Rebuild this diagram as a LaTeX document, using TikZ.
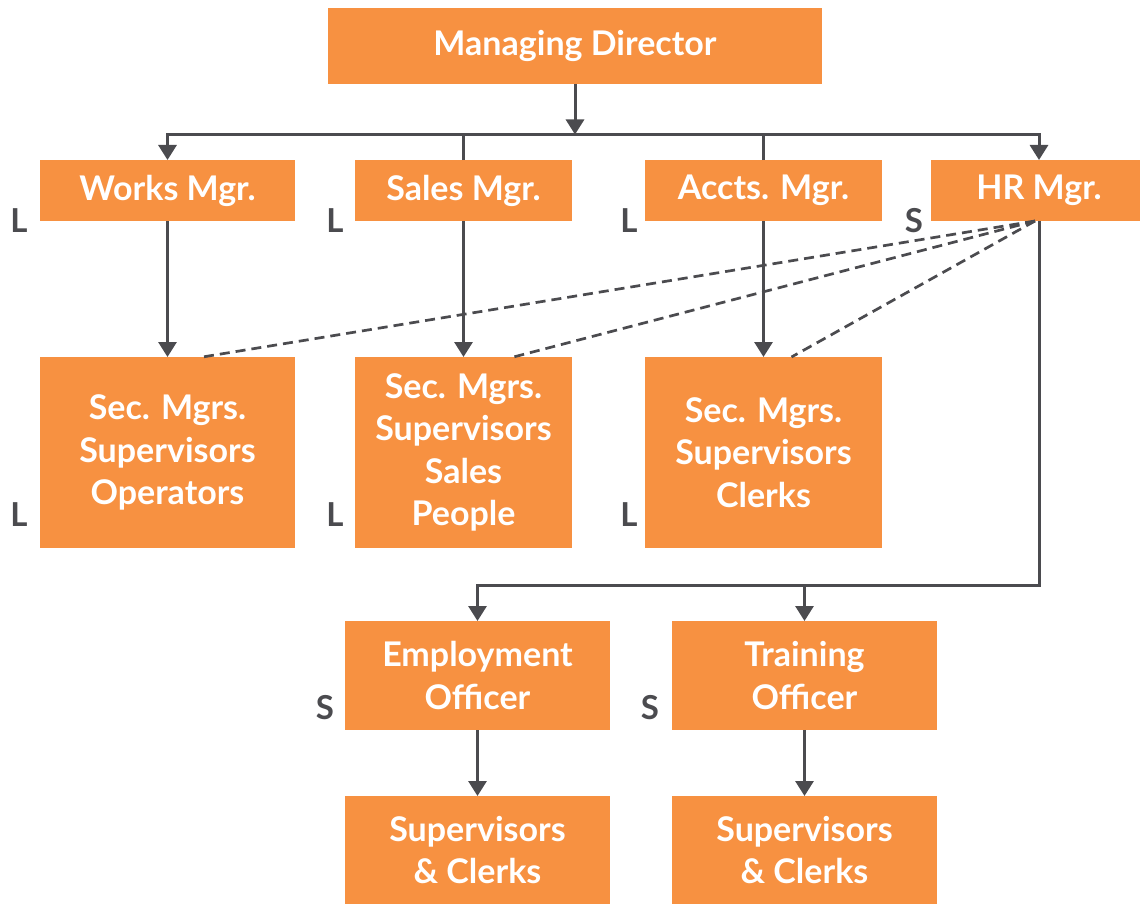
\documentclass[tikz,border=0pt]{standalone}
\usepackage{fontspec}
\setmainfont{Lato}
\usetikzlibrary{arrows.meta}
\definecolor{boxorange}{HTML}{F79141}
\definecolor{linegray}{HTML}{4B4B4F}
\begin{document}
\begin{tikzpicture}[x=0.5pt,y=-0.5pt,inner sep=0pt,outer sep=0pt,line width=1.5pt,draw=linegray,
>={Triangle[width=9pt,length=7.5pt]},
orgbox/.style={fill=boxorange,rectangle,align=center,text=white,font=\fontsize{17}{21.3}\selectfont\bfseries},
rank/.style={text=linegray,font=\fontsize{16.5}{20}\selectfont\bfseries},
hrlink/.style={dash pattern=on 5pt off 3pt,line width=1.35pt}]
\clip (0,0) rectangle (1140,904);
% top level
\node[orgbox,minimum width=247pt,minimum height=38pt] (md) at (575,46) {Managing Director};
\node[orgbox,minimum width=127.5pt,minimum height=30.5pt] (works) at (167.5,190.5) {Works Mgr.};
\node[orgbox,minimum width=108.5pt,minimum height=30.5pt] (sales) at (463.5,190.5) {Sales Mgr.};
\node[orgbox,minimum width=118.5pt,minimum height=30.5pt] (accts) at (763.5,190.5) {Accts. Mgr.};
\node[orgbox,minimum width=108pt,minimum height=30.5pt] (hr) at (1039,190.5) {HR Mgr.};
% sections
\node[orgbox,minimum width=127.5pt,minimum height=95.5pt] (sec1) at (167.5,452.5) {Sec. Mgrs.\\Supervisors\\Operators};
\node[orgbox,minimum width=108.5pt,minimum height=95.5pt] (sec2) at (463.5,452.5) {Sec. Mgrs.\\Supervisors\\Sales\\People};
\node[orgbox,minimum width=118.5pt,minimum height=95.5pt] (sec3) at (763.5,452.5) {Sec. Mgrs.\\Supervisors\\Clerks};
% HR officers
\node[orgbox,minimum width=132.5pt,minimum height=54.5pt] (emp) at (477.5,675.5) {Employment\\Officer};
\node[orgbox,minimum width=132.5pt,minimum height=54.5pt] (train) at (804.5,675.5) {Training\\Officer};
\node[orgbox,minimum width=132.5pt,minimum height=54pt] (sup1) at (477.5,850) {Supervisors\\\& Clerks};
\node[orgbox,minimum width=132.5pt,minimum height=54pt] (sup2) at (804.5,850) {Supervisors\\\& Clerks};
% line / staff marks
\node[rank] (l1) at ([shift={(-21,0)}]works.south west) {L};
\node[rank] (l2) at ([shift={(-20,0)}]sales.south west) {L};
\node[rank] (l3) at ([shift={(-16,0)}]accts.south west) {L};
\node[rank] (s1) at ([shift={(-17,0)}]hr.south west) {S};
\node[rank] (l4) at ([shift={(-21,-33)}]sec1.south west) {L};
\node[rank] (l5) at ([shift={(-20,-33)}]sec2.south west) {L};
\node[rank] (l6) at ([shift={(-16,-33)}]sec3.south west) {L};
\node[rank] (s2) at ([shift={(-20,-22)}]emp.south west) {S};
\node[rank] (s3) at ([shift={(-22,-22)}]train.south west) {S};
% connectors
\coordinate (mdbus) at (575,134.5);
\coordinate (hrbus) at (1039,585);
\coordinate (hrfoot) at ([shift={(-4,0)}]hr.south);
\draw[->] (md) -- (mdbus);
\draw[->] (mdbus) -| (works);
\draw[->] (mdbus) -| (hr);
\draw (sales.north) -- (sales.north |- mdbus);
\draw (accts.north) -- (accts.north |- mdbus);
\draw[->] (works) -- (sec1);
\draw[->] (sales) -- (sec2);
\draw[->] (accts) -- (sec3);
\draw[->] (hr.south) -- (hrbus) -| (emp);
\draw[->] (train.north |- hrbus) -- (train);
\draw[->] (emp) -- (sup1);
\draw[->] (train) -- (sup2);
\draw[hrlink] (hrfoot) -- ([shift={(35,0)}]sec1.north);
\draw[hrlink] (hrfoot) -- ([shift={(50,0)}]sec2.north);
\draw[hrlink] (hrfoot) -- ([shift={(28,0)}]sec3.north);
\end{tikzpicture}
\end{document}
